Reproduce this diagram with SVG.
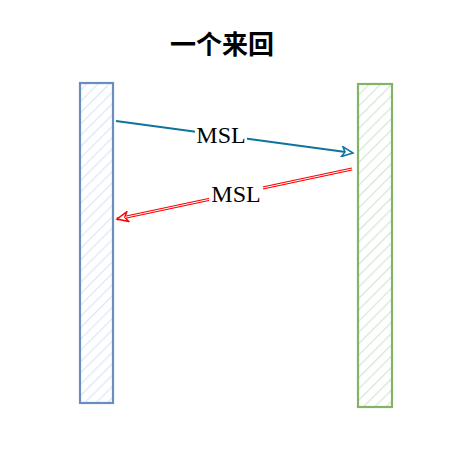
<svg xmlns="http://www.w3.org/2000/svg" width="460" height="456" viewBox="0 0 460 456">
<style>
.lbl{font-family:"Liberation Serif",serif;font-size:24px;fill:#000;text-anchor:middle}
.ttl{font-family:"Noto Sans CJK SC",sans-serif;font-size:26px;font-weight:bold;fill:#000;text-anchor:middle}
</style>
<defs>
<pattern id="hb" patternUnits="userSpaceOnUse" width="8" height="8" patternTransform="rotate(45)">
<rect width="8" height="8" fill="#fff"/><line x1="0" y1="0" x2="0" y2="8" stroke="#dae8fc" stroke-width="2.5"/>
</pattern>
<pattern id="hg" patternUnits="userSpaceOnUse" width="8" height="8" patternTransform="rotate(45)">
<rect width="8" height="8" fill="#fff"/><line x1="0" y1="0" x2="0" y2="8" stroke="#d5e8d4" stroke-width="2.5"/>
</pattern>
<marker id="ab" markerWidth="14" markerHeight="12" refX="12" refY="6" orient="auto" markerUnits="userSpaceOnUse">
<path d="M1,1 L12,6 L1,11 L4,6 Z" fill="#fff" stroke="#10739e" stroke-width="1.5"/>
</marker>
<marker id="ar" markerWidth="14" markerHeight="12" refX="12" refY="6" orient="auto" markerUnits="userSpaceOnUse">
<path d="M1,1 L12,6 L1,11 L4,6 Z" fill="#fff" stroke="#ff0000" stroke-width="1.5"/>
</marker>
</defs>
<text class="ttl" x="222" y="54">一个来回</text>
<g id="left">
<rect x="80" y="83" width="33" height="320" fill="url(#hb)" stroke="#6c8ebf" stroke-width="2.2"/>
</g>
<g id="right">
<rect x="358" y="84" width="34" height="323" fill="url(#hg)" stroke="#82b366" stroke-width="2.2"/>
</g>
<g id="connectors">
<line x1="116" y1="121" x2="353" y2="153" stroke="#10739e" stroke-width="2" marker-end="url(#ab)"/>
<line x1="352" y1="169" x2="117" y2="219" stroke="#ff0000" stroke-width="3" marker-end="url(#ar)"/>
<line x1="352" y1="169" x2="125" y2="217.3" stroke="#fff" stroke-width="1"/>
<rect x="195" y="123" width="52" height="24" fill="#fff"/>
<text class="lbl" x="221" y="143">MSL</text>
<rect x="209" y="182" width="54" height="24" fill="#fff"/>
<text class="lbl" x="236" y="202">MSL</text>
</g>
</svg>
